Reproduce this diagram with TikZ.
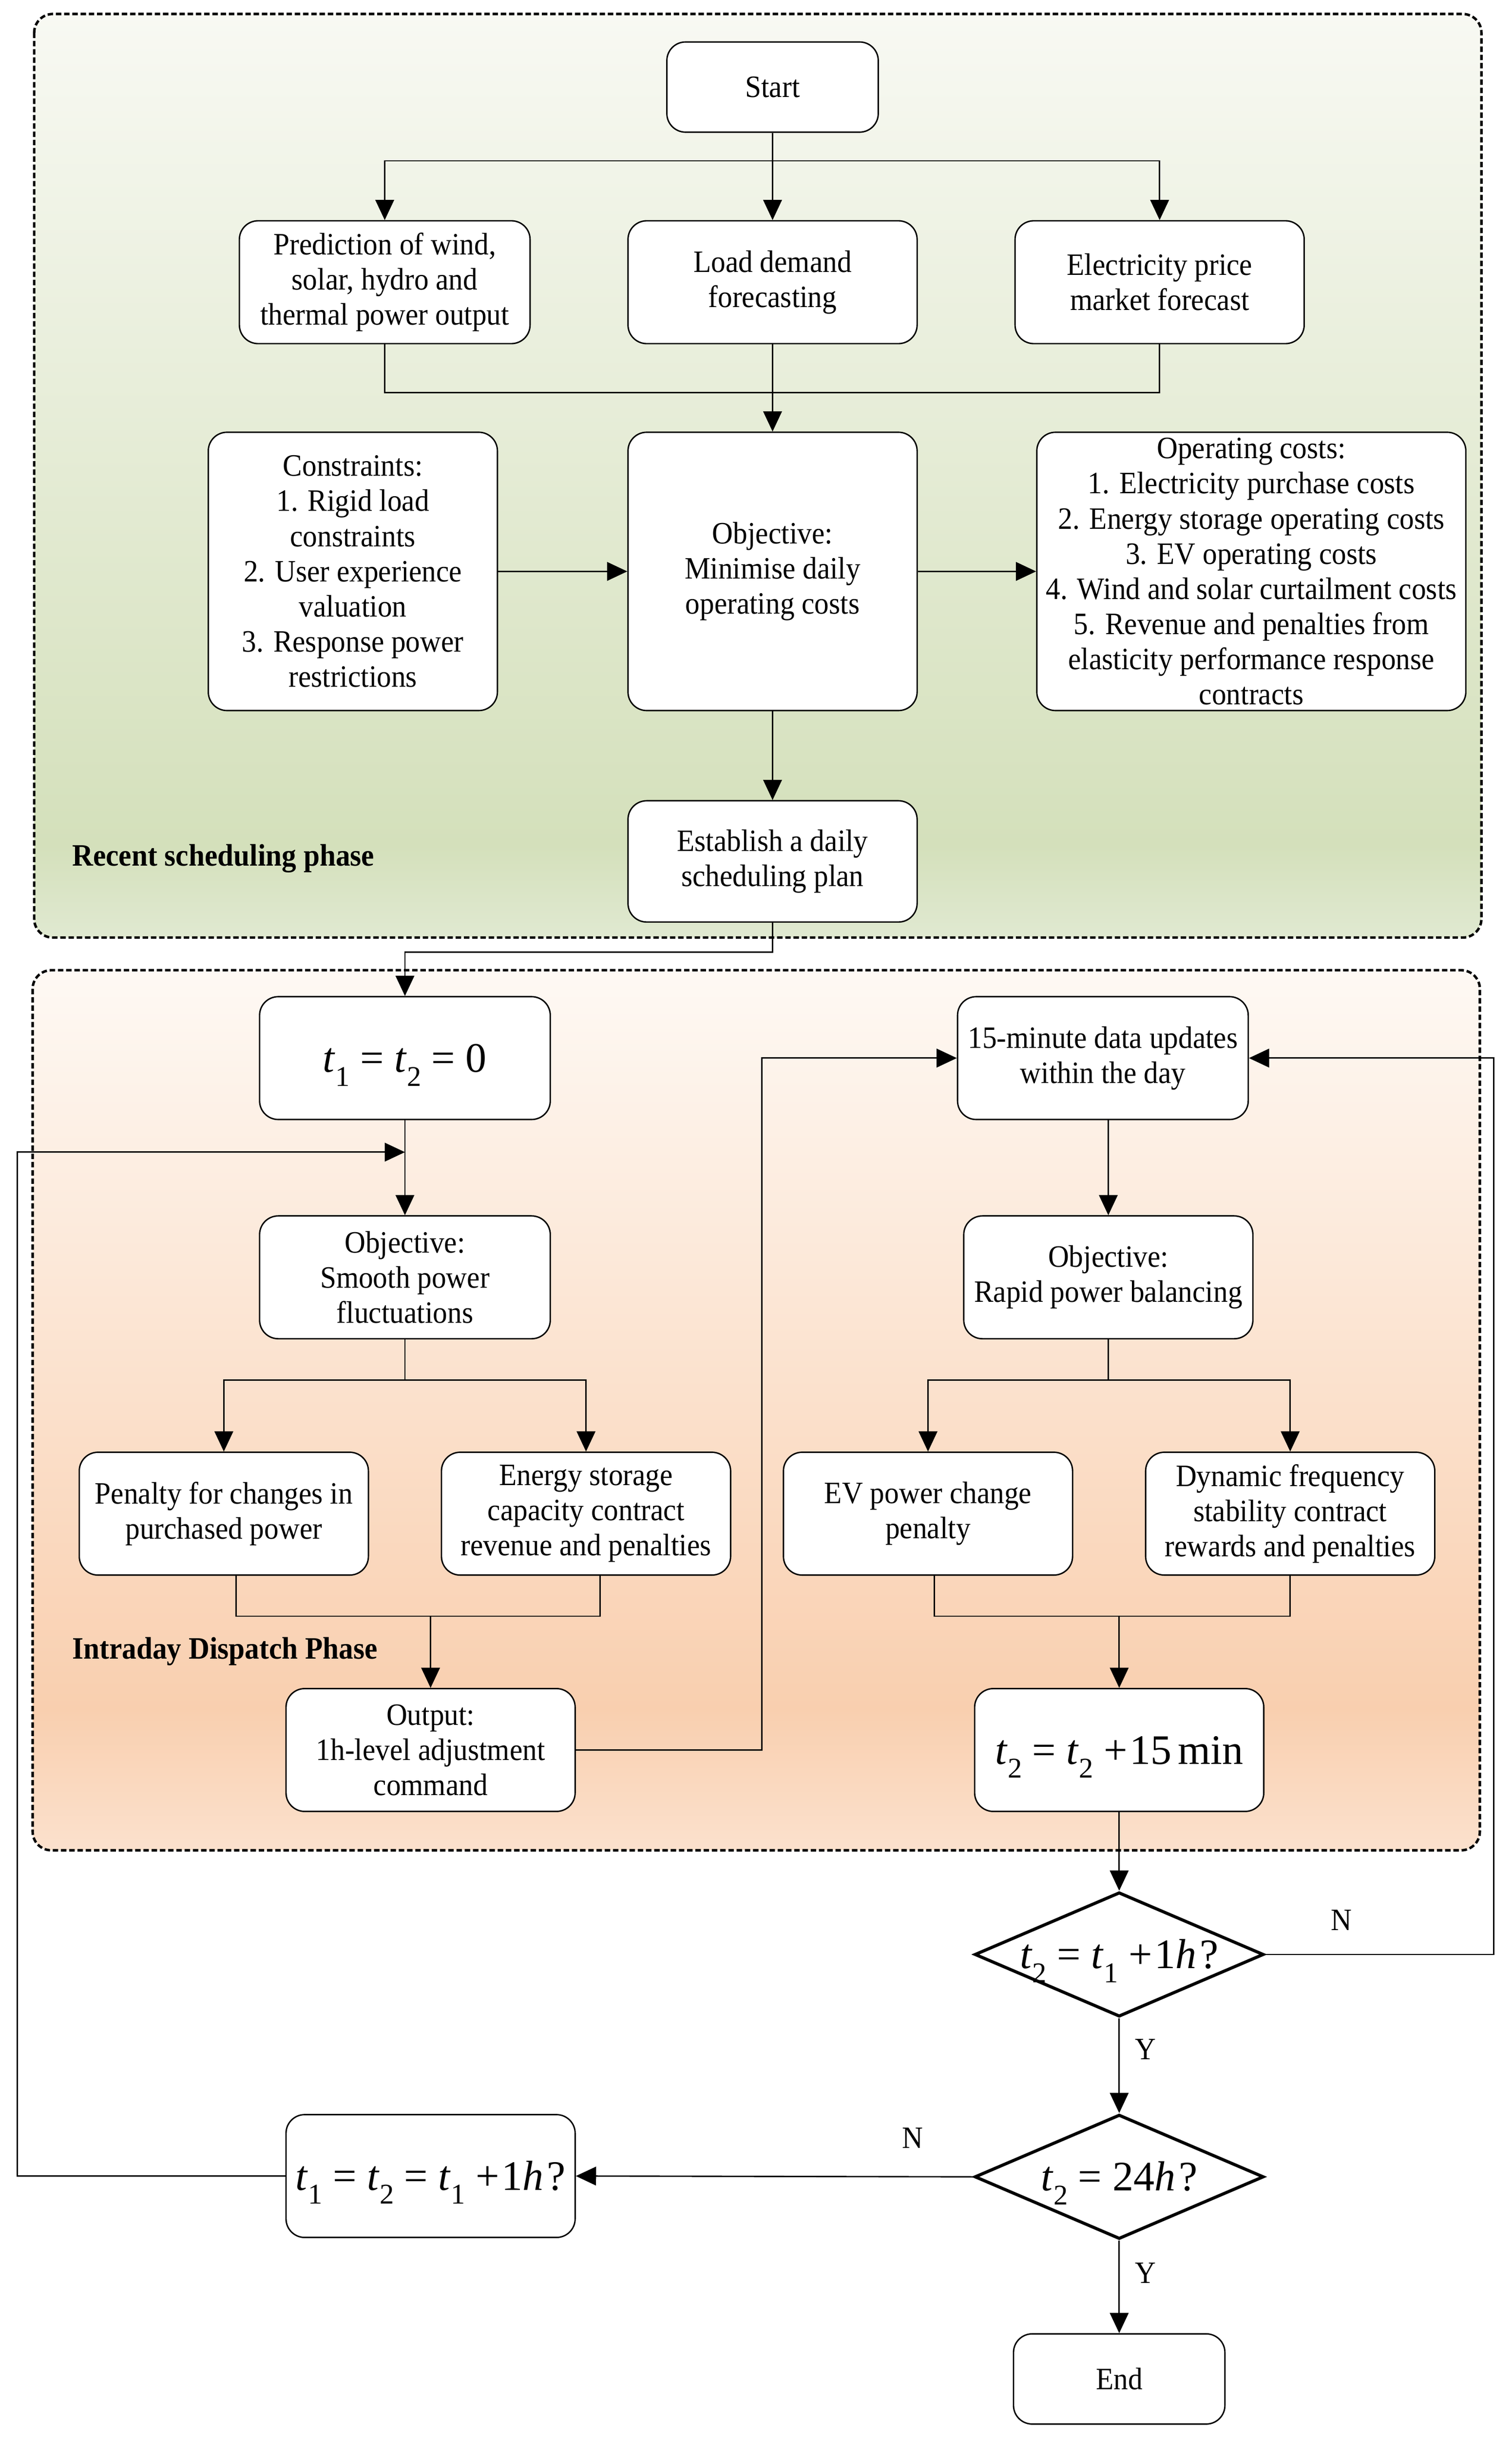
\documentclass[tikz,border=0pt]{standalone}
\usepackage{fontspec}
\setmainfont{Liberation Serif}[FakeStretch=0.93]
\newfontfamily\mfont{Liberation Serif}
\usepackage{graphicx}
\usetikzlibrary{arrows.meta,shapes.geometric}
\definecolor{gtop}{RGB}{248,249,243}
\definecolor{gmid}{RGB}{212,224,187}
\definecolor{gbot}{RGB}{224,233,209}
\definecolor{otop}{RGB}{254,249,244}
\definecolor{omid}{RGB}{249,207,175}
\definecolor{obot}{RGB}{251,225,205}
\pgfdeclareverticalshading{greensh}{100bp}{color(0bp)=(gbot); color(25bp)=(gbot); color(30bp)=(gmid); color(75bp)=(gtop); color(100bp)=(gtop)}
\pgfdeclareverticalshading{orangesh}{100bp}{color(0bp)=(obot); color(25bp)=(obot); color(33bp)=(omid); color(75bp)=(otop); color(100bp)=(otop)}
\newcommand{\mysub}[1]{\raisebox{-0.33em}{\scalebox{0.68}{#1}}}
\newcommand{\tv}[1]{\textit{t}\mysub{#1}}
\newcommand{\opeq}{\hspace{0.25em}=\hspace{0.25em}}
\newcommand{\oppl}{\hspace{0.25em}+\hspace{0.05em}}
\tikzset{
  every node/.style={font=\fontsize{20}{22.6}\selectfont},
  box/.style={draw, fill=white, rounded corners=12pt, line width=0.9pt, align=center, inner sep=2pt, minimum width=186pt, minimum height=79pt},
  mbox/.style={box, font=\mfont\fontsize{27}{30}\selectfont, text height=20pt, text depth=2pt},
  dec/.style={draw, diamond, fill=white, line width=2pt, inner sep=0pt, minimum width=186pt, minimum height=80pt,
    label={[font=\mfont\fontsize{27}{30}\selectfont, text height=20pt, text depth=2pt]center:#1}},
  conn/.style={line width=0.9pt},
  arr/.style={conn, -{Triangle[length=13pt,width=12pt]}},
  phase/.style={draw, line width=1.6pt, dash pattern=on 3.5pt off 1.8pt, rounded corners=12pt},
  lbl/.style={font=\fontsize{20}{22.6}\selectfont}
}
\begin{document}
\begin{tikzpicture}[x=1pt,y=-1pt]
\useasboundingbox (0,0) rectangle (972.5,1567.35);
% phase containers
\shadedraw[phase, shading=greensh] (22,9) rectangle (953,603);
\shadedraw[phase, shading=orangesh] (21,624) rectangle (952,1190);
\node[anchor=west, font=\bfseries\fontsize{20}{22.6}\selectfont] (lab1) at (43,552) {Recent scheduling phase};
\node[anchor=west, font=\bfseries\fontsize{20}{22.6}\selectfont] (lab2) at (43,1062) {Intraday Dispatch Phase};
% day-ahead nodes
\node[box, minimum width=136pt, minimum height=58pt] (start) at (497,56) {Start};
\node[box, minimum width=187pt] (pred) at (247.5,181.5) {Prediction of wind,\\solar, hydro and\\thermal power output};
\node[box] (load) at (497,181.5) {Load demand\\forecasting};
\node[box] (elec) at (746,181.5) {Electricity price\\market forecast};
\node[box, minimum height=179pt] (cons) at (227,367.5) {Constraints:\\1. Rigid load\\constraints\\2. User experience\\valuation\\3. Response power\\restrictions};
\node[box, minimum height=179pt] (obj1) at (497,367.5) {Objective:\\Minimise daily\\operating costs};
\node[box, minimum width=276pt, minimum height=179pt] (opc) at (805,367.5) {Operating costs:\\1. Electricity purchase costs\\2. Energy storage operating costs\\3. EV operating costs\\4. Wind and solar curtailment costs\\5. Revenue and penalties from\\elasticity performance response\\contracts};
\node[box, minimum height=78pt] (est) at (497,554) {Establish a daily\\scheduling plan};
% intraday nodes
\node[mbox, minimum width=187pt] (t0) at (260.5,680.5) {\tv{1}\opeq\tv{2}\opeq0};
\node[box, minimum width=187pt] (obj2) at (260.5,821.5) {Objective:\\Smooth power\\fluctuations};
\node[box] (pen) at (144,973.5) {Penalty for changes in\\purchased power};
\node[box] (ener) at (377,973.5) {Energy storage\\capacity contract\\revenue and penalties};
\node[box] (out) at (277,1125.5) {Output:\\1h-level adjustment\\command};
\node[box, minimum width=187pt] (upd) at (709.5,680.5) {15-minute data updates\\within the day};
\node[box] (obj3) at (713,821.5) {Objective:\\Rapid power balancing};
\node[box] (ev) at (597,973.5) {EV power change\\penalty};
\node[box] (dyn) at (830,973.5) {Dynamic frequency\\stability contract\\rewards and penalties};
\node[mbox] (t2b) at (720,1125.5) {\tv{2}\opeq\tv{2}\oppl15\hspace{0.15em}min};
\node[dec={\tv{2}\opeq\tv{1}\oppl1\textit{h}\hspace{0.08em}?}] (d1) at (720,1257) {};
\node[dec={\tv{2}\opeq24\textit{h}\hspace{0.08em}?}] (d2) at (720,1400) {};
\node[mbox] (t1b) at (277,1399.5) {\tv{1}\opeq\tv{2}\opeq\tv{1}\oppl1\textit{h}\hspace{0.08em}?};
\node[box, minimum width=136pt, minimum height=58pt] (endn) at (720,1530) {End};
% labels
\node[lbl] (n1) at (863,1235) {N};
\node[lbl] (y1) at (737,1318) {Y};
\node[lbl] (n2) at (587,1375) {N};
\node[lbl] (y2) at (737,1462) {Y};
% coordinates
\coordinate (jl) at (260.5,741);
\coordinate (lx) at (11,741);
\coordinate (m1) at (277,1039);
\coordinate (m2) at (720,1039);
\coordinate (c490) at (490,1125.5);
\coordinate (r961) at (961,1257);
% connectors day-ahead
\draw[arr] (start.south) -- ++(0,18) -| (pred.north);
\draw[arr] (start.south) -- ++(0,18) -| (elec.north);
\draw[arr] (start) -- (load);
\draw[conn] (pred.south) -- ++(0,31) -| (elec.south);
\draw[arr] (load) -- (obj1);
\draw[arr] (cons) -- (obj1);
\draw[arr] (obj1) -- (opc);
\draw[arr] (obj1) -- (est);
\draw[arr] (est.south) -- ++(0,19) -| (t0.north);
% intraday left
\draw[arr] (t0) -- (obj2);
\draw[arr] (t1b.west) -| (lx) -- (jl);
\draw[arr] (obj2.south) -- ++(0,26) -| (pen.north);
\draw[arr] (obj2.south) -- ++(0,26) -| (ener.north);
\draw[conn] ([xshift=8pt]pen.south) -- ++(0,26) -| ([xshift=9pt]ener.south);
\draw[arr] (m1) -- (out.north);
\draw[arr] (out.east) -- (c490) |- (upd.west);
% intraday right
\draw[arr] (upd.south -| obj3.north) -- (obj3.north);
\draw[arr] (obj3.south) -- ++(0,26) -| (ev.north);
\draw[arr] (obj3.south) -- ++(0,26) -| (dyn.north);
\draw[conn] ([xshift=4pt]ev.south) -- ++(0,26) -| (dyn.south);
\draw[arr] (m2) -- (t2b.north);
\draw[arr] (t2b) -- (d1);
\draw[arr] (d1.east) -- (r961) |- (upd.east);
\draw[arr] (d1) -- (d2);
\draw[arr] (d2.west) -- (t1b.east);
\draw[arr] (d2) -- (endn);
\end{tikzpicture}
\end{document}
